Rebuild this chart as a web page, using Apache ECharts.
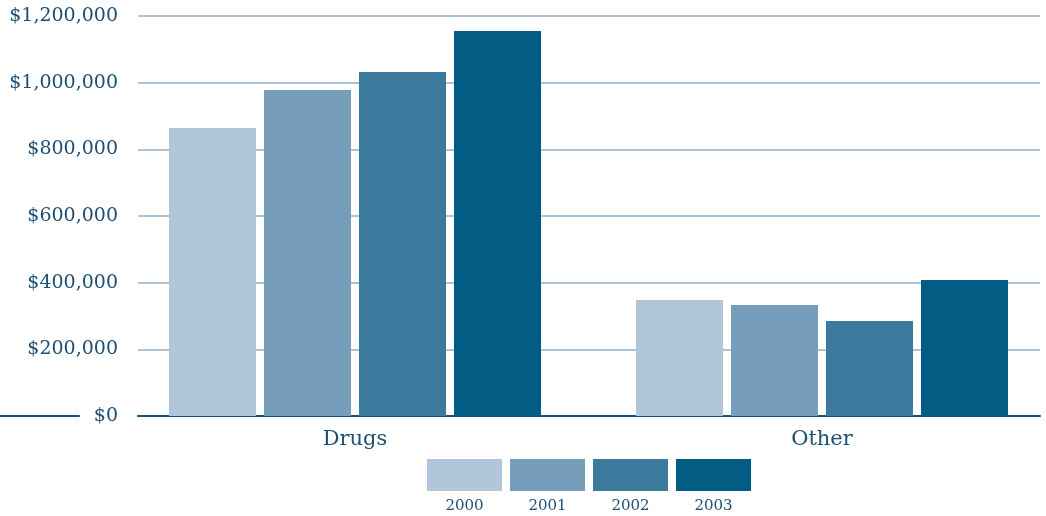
<!DOCTYPE html>
<html>
<head>
<meta charset="utf-8">
<script src="https://cdn.jsdelivr.net/npm/echarts@6/dist/echarts.min.js"></script>
<style>html,body{margin:0;padding:0;background:#fff}#c{width:1046px;height:516px}</style>
</head>
<body>
<div id="c"></div>
<script>
var categories = ['Drugs', 'Other'];
var years = ['2000', '2001', '2002', '2003'];
var v2000 = [864000, 348000];
var v2001 = [978000, 333000];
var v2002 = [1032000, 285000];
var v2003 = [1155000, 408000];
var yTicks = [0, 200000, 400000, 600000, 800000, 1000000, 1200000];
var colors = ['#b2c6da', '#769db9', '#3b7a9c', '#025c83'];
var seriesValues = [v2000, v2001, v2002, v2003];

var font = 'DejaVu Serif';
var textColor = '#1d4f72';
var yMin = yTicks[0], yMax = yTicks[yTicks.length - 1], yStep = yTicks[1] - yTicks[0];

function money(v) { return '$' + v.toString().replace(/\B(?=(\d{3})+(?!\d))/g, ','); }

var chart = echarts.init(document.getElementById('c'));
var series = years.map(function (y, i) {
  return {
    name: y, type: 'bar', xAxisIndex: 1, yAxisIndex: 1,
    data: seriesValues[i], barWidth: 87, barGap: '9.2%',
    itemStyle: { color: colors[i] }, z: 3
  };
});
series.push({
  name: 'legend', type: 'bar', xAxisIndex: 3, yAxisIndex: 3,
  data: years.map(function (y, i) { return { value: 1, itemStyle: { color: colors[i] } }; }),
  barWidth: 75, silent: true
});

chart.setOption({
  animation: false,
  grid: [
    { left: 138, right: 6, top: 16, bottom: 100, outerBoundsMode: 'none' },
    { left: 121.5, width: 934, top: 16, bottom: 100, outerBoundsMode: 'none', containLabel: false },
    { left: 0, width: 79, top: 16, bottom: 100, outerBoundsMode: 'none' },
    { left: 423, width: 332, top: 459, height: 32, outerBoundsMode: 'none' }
  ],
  xAxis: [
    { gridIndex: 0, type: 'category', data: categories,
      axisLine: { lineStyle: { color: '#11577c', width: 2 } },
      axisTick: { show: false }, axisLabel: { show: false } },
    { gridIndex: 1, type: 'category', data: categories,
      axisLine: { show: false }, axisTick: { show: false },
      axisLabel: { fontFamily: font, fontSize: 21, color: textColor, margin: 13 } },
    { gridIndex: 2, type: 'category', data: [''],
      axisLine: { lineStyle: { color: '#11577c', width: 2 } },
      axisTick: { show: false }, axisLabel: { show: false } },
    { gridIndex: 3, type: 'category', data: years,
      axisLine: { show: false }, axisTick: { show: false },
      axisLabel: { fontFamily: font, fontSize: 15, color: textColor, margin: 8 } }
  ],
  yAxis: [
    { gridIndex: 0, type: 'value', min: yMin, max: yMax, interval: yStep,
      axisLine: { show: false }, axisTick: { show: false },
      axisLabel: { formatter: money, fontFamily: font, fontSize: 19, color: textColor, margin: 20 },
      splitLine: { lineStyle: { color: '#aec3d5', width: 2 } } },
    { gridIndex: 1, type: 'value', min: yMin, max: yMax, interval: yStep, show: false, splitLine: { show: false } },
    { gridIndex: 2, type: 'value', min: yMin, max: yMax, interval: yStep, show: false, splitLine: { show: false } },
    { gridIndex: 3, type: 'value', min: 0, max: 1, show: false, splitLine: { show: false } }
  ],
  series: series
});
</script>
</body>
</html>
